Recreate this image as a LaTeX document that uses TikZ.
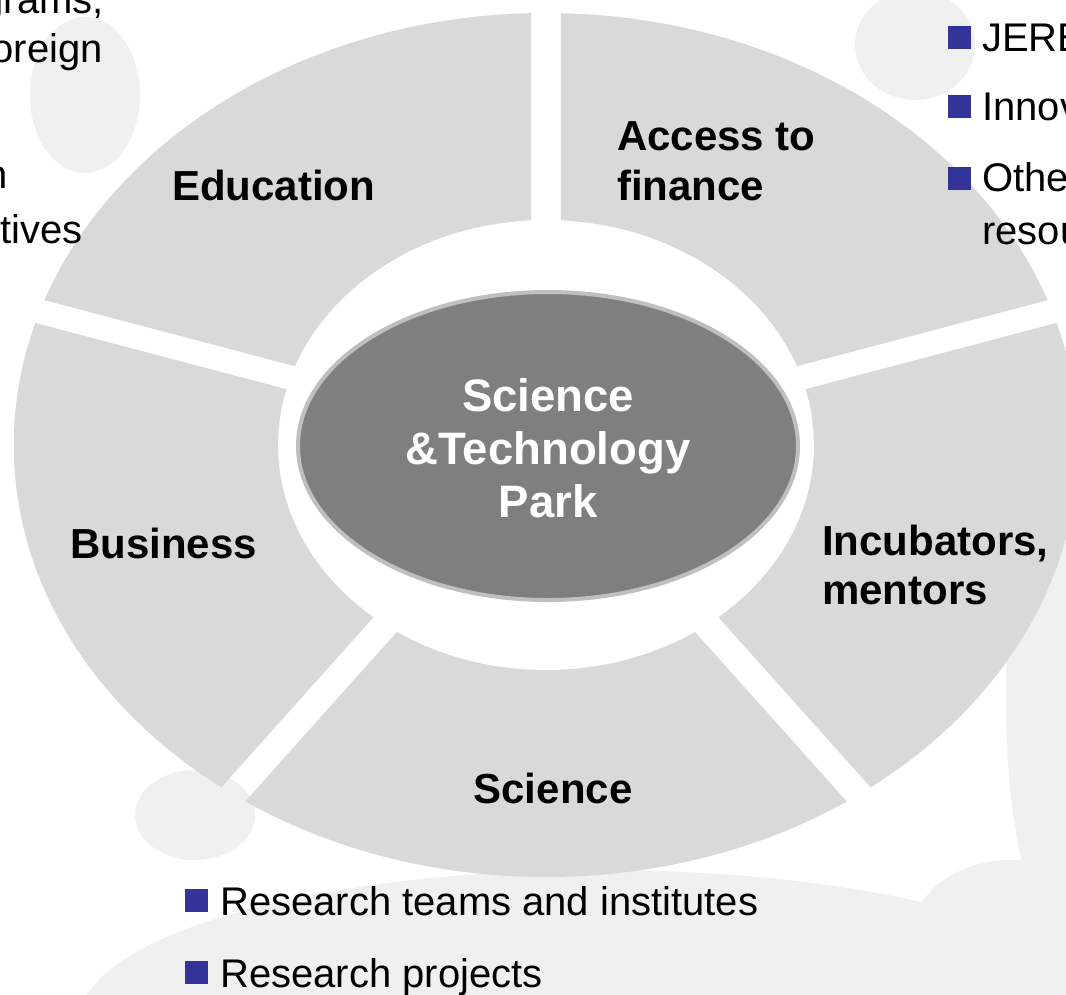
\documentclass[tikz,border=0pt]{standalone}
\usepackage{fontspec}
\usetikzlibrary{shapes.geometric}
\setmainfont{Liberation Sans}
\definecolor{segc}{HTML}{D9D9D9}
\definecolor{hubc}{HTML}{7F7F7F}
\definecolor{hubrim}{HTML}{BFBFBF}
\definecolor{bulc}{HTML}{333399}
\definecolor{wmark}{HTML}{F0F0F0}
\begin{document}
\begin{tikzpicture}[x=1pt,y=-1pt,
  seglbl/.style={font=\fontsize{42}{48}\selectfont\bfseries, inner sep=0pt, anchor=base west},
  hublbl/.style={font=\fontsize{45.5}{52}\selectfont\bfseries, text=white, inner sep=0pt, anchor=base},
  txt/.style={font=\fontsize{40}{46}\selectfont, inner sep=0pt, anchor=base west},
  txtr/.style={font=\fontsize{40}{46}\selectfont, inner sep=0pt, anchor=base east},
  bul/.style={fill=bulc, draw=none, minimum size=23pt, inner sep=0pt, anchor=north west},
  hubshape/.style={ellipse, fill=hubc, draw=hubrim, line width=4pt, minimum width=500pt, minimum height=308pt, inner sep=0pt},
  wm/.style={fill=wmark}
]
\useasboundingbox (0,0) rectangle (1066,994);
\clip (0,0) rectangle (1066,994);
\fill[white] (0,0) rectangle (1066,994);

% faint watermark background
\fill[wm] (85,95) ellipse [x radius=55, y radius=78];
\fill[wm] (915,45) ellipse [x radius=60, y radius=55];
\fill[wm] (1066,700) ellipse [x radius=60, y radius=240];
\fill[wm] (600,1020) ellipse [x radius=520, y radius=150];
\fill[wm] (195,815) ellipse [x radius=60, y radius=45];
\fill[wm] (1010,940) ellipse [x radius=100, y radius=80];

% ring of five segments
\begin{scope}[shift={(546,445)}, yscale=-1, xscale=1.232]
  \foreach \a [evaluate=\a as \m using \a+36, evaluate=\a as \b using \a+72] in {18,90,162,234,306}{
    \begin{scope}
      \clip (\m:20.4) -- ([shift={(\m:20.4)}]\a:700) -- (\m:1000) -- ([shift={(\m:20.4)}]\b:700) -- cycle;
      \fill[segc, even odd rule] (0,0) circle [radius=432] (0,0) ellipse [x radius=217.5, y radius=225];
    \end{scope}
  }
\end{scope}

% hub
\node[hubshape] (hub) at (548,446) {};
\node[hublbl] (hub1) at (548,411) {Science};
\node[hublbl] (hub2) at (548,464) {\&Technology};
\node[hublbl] (hub3) at (548,517) {Park};

% segment labels
\node[seglbl] (edu) at (172,200) {Education};
\node[seglbl] (fin1) at (617,150) {Access to};
\node[seglbl] (fin2) at (617,200) {finance};
\node[seglbl] (bus) at (70,558) {Business};
\node[seglbl] (inc1) at (822,555) {Incubators,};
\node[seglbl] (inc2) at (822,604) {mentors};
\node[seglbl, anchor=base] (sci) at (553,803) {Science};

% left bullet text (clipped)
\node[txtr] (l1) at (104,13) {grams,};
\node[txtr] (l2) at (103,62) {oreign};
\node[txtr] (l3) at (8,188) {n};
\node[txtr] (l4) at (83,243) {tives};

% right bullet list (clipped)
\node[bul] (rb1) at (948,26) {};
\node[txt] (r1) at (982,51) {JERE};
\node[bul] (rb2) at (948,95) {};
\node[txt] (r2) at (982,120) {Innov};
\node[bul] (rb3) at (948,167) {};
\node[txt] (r3) at (982,191) {Othe};
\node[txt] (r4) at (982,244) {resou};

% bottom bullet list
\node[bul] (bb1) at (185,889) {};
\node[txt] (b1) at (220,915) {Research teams and institutes};
\node[bul] (bb2) at (185,961) {};
\node[txt] (b2) at (220,987) {Research projects};
\end{tikzpicture}
\end{document}
